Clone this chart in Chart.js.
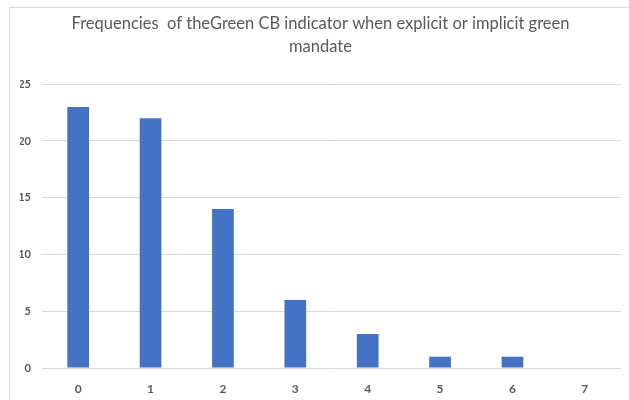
<!DOCTYPE html>
<html>
<head>
<meta charset="utf-8">
<script src="https://cdn.jsdelivr.net/npm/chart.js@4"></script>
<style>
  html, body { margin: 0; padding: 0; background: #fff; }
  #wrap { position: relative; width: 629px; height: 400px; overflow: hidden; }
  #frame { position: absolute; left: 9px; top: 7px; width: 700px; height: 500px; border: 1px solid #d9d9d9; }
  canvas { position: absolute; left: 0; top: 0; }
</style>
</head>
<body>
<div id="wrap">
  <div id="frame"></div>
  <canvas id="chart" width="629" height="400"></canvas>
</div>
<script>
const categories = ['0', '1', '2', '3', '4', '5', '6', '7'];
const frequencies = [23, 22, 14, 6, 3, 1, 1, 0];
const yTicks = [0, 5, 10, 15, 20, 25];
const titleLines = ['Frequencies  of theGreen CB indicator when explicit or implicit green', 'mandate'];

const textGrey = '#595959';

new Chart(document.getElementById('chart').getContext('2d'), {
  type: 'bar',
  data: {
    labels: categories,
    datasets: [{
      label: 'Frequency',
      data: frequencies,
      backgroundColor: '#4472c4',
      borderWidth: 0,
      categoryPercentage: 1,
      barPercentage: 0.3,
    }]
  },
  options: {
    responsive: false,
    animation: false,
    layout: { padding: { left: 20, right: 8, top: 0, bottom: 0 } },
    plugins: {
      legend: { display: false },
      tooltip: { enabled: false },
      title: {
        display: true,
        text: titleLines,
        color: textGrey,
        font: { family: 'Lato', size: 16.5, weight: 'normal', lineHeight: 1.4 },
        padding: { top: 12, bottom: 26 },
      }
    },
    scales: {
      x: {
        grid: { display: false },
        border: { display: false },
        ticks: { color: textGrey, font: { family: 'Lato', size: 12, weight: 'bold' }, padding: 6 },
        afterFit: (axis) => { axis.height = 32; },
      },
      y: {
        min: 0,
        max: 25,
        afterBuildTicks: (axis) => { axis.ticks = yTicks.map(v => ({ value: v })); },
        grid: { color: '#d9d9d9', lineWidth: 1, drawTicks: false },
        border: { display: false },
        ticks: { color: textGrey, font: { family: 'Lato', size: 11, weight: 'bold' }, padding: 11 },
        afterFit: (axis) => { axis.width = 22; },
      }
    }
  }
});
</script>
</body>
</html>
